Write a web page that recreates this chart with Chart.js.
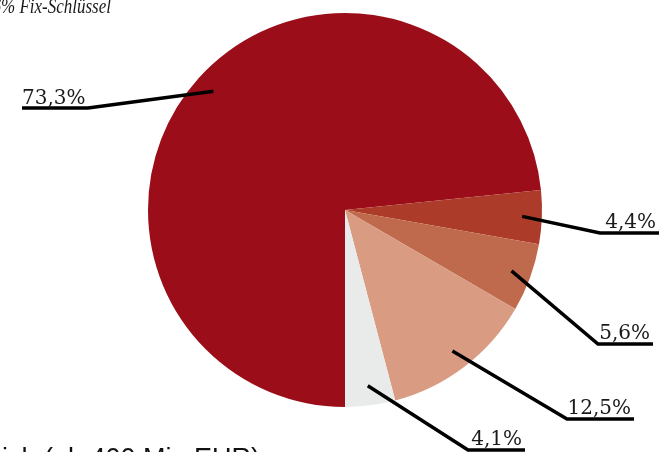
<!DOCTYPE html>
<html>
<head>
<meta charset="utf-8">
<script src="https://cdn.jsdelivr.net/npm/chart.js@4"></script>
<style>
  html, body { margin: 0; padding: 0; background: #fff; overflow: hidden; }
  #wrap { width: 659px; height: 452px; position: relative; }
</style>
</head>
<body>
<div id="wrap"><canvas id="pieChart"></canvas></div>
<script>
// Anteile (in %)
var labels = ['Rest', 'Anteil A', 'Anteil B', 'Anteil C', 'Anteil D'];
var values = [73.3, 4.4, 5.6, 12.5, 4.1];
var valueLabels = ['73,3%', '4,4%', '5,6%', '12,5%', '4,1%'];
var colors = ['#9b0e19', '#ad3b2a', '#c06a4d', '#d99b82', '#e9ebea'];

// Knickpunkt der Führungslinie, Ende der Unterstreichung
var leaders = [
    { elbow: [88, 108], end: 22 },
    { elbow: [600, 233], end: 659 },
    { elbow: [598, 344], end: 653 },
    { elbow: [567, 419], end: 634 },
    { elbow: [468, 450], end: 525 }
];

var leaderPlugin = {
    id: 'leaders',
    afterDraw: function (chart) {
        var ctx = chart.ctx;
        var arcs = chart.getDatasetMeta(0).data;
        ctx.save();
        arcs.forEach(function (arc, i) {
            var mid = (arc.startAngle + arc.endAngle) / 2;
            var r = arc.outerRadius * 0.9;
            var sx = arc.x + Math.cos(mid) * r;
            var sy = arc.y + Math.sin(mid) * r;
            var l = leaders[i];
            ctx.strokeStyle = '#000';
            ctx.lineWidth = 3.5;
            ctx.lineCap = 'butt';
            ctx.lineJoin = 'miter';
            ctx.beginPath();
            ctx.moveTo(sx, sy);
            ctx.lineTo(l.elbow[0], l.elbow[1]);
            ctx.lineTo(l.end, l.elbow[1]);
            ctx.stroke();

            ctx.fillStyle = '#1a1a1a';
            ctx.font = '20px "DejaVu Serif"';
            ctx.textBaseline = 'alphabetic';
            if (l.end < l.elbow[0]) {
                ctx.textAlign = 'left';
                ctx.fillText(valueLabels[i], l.end, l.elbow[1] - 4);
            } else {
                ctx.textAlign = 'right';
                ctx.fillText(valueLabels[i], l.end - 3, l.elbow[1] - 5);
            }
        });

        // abgeschnittene Texte am Rand
        ctx.save();
        ctx.translate(111, 13);
        ctx.scale(1, 1.2);
        ctx.fillStyle = '#1a1a1a';
        ctx.font = 'italic 17px "Liberation Serif"';
        ctx.textAlign = 'right';
        ctx.fillText('6% Fix-Schlüssel', 0, 0);
        ctx.restore();

        ctx.fillStyle = '#111';
        ctx.font = '27px "Liberation Sans"';
        ctx.textAlign = 'left';
        ctx.fillText('ich (ab 400 Mio EUR)', 2, 467);
        ctx.restore();
    }
};

var ctxPie = document.getElementById('pieChart').getContext('2d');
var pieChart = new Chart(ctxPie, {
    type: 'pie',
    data: {
        labels: labels,
        datasets: [{
            data: values,
            backgroundColor: colors,
            borderWidth: 0
        }]
    },
    options: {
        responsive: true,
        maintainAspectRatio: false,
        animation: false,
        rotation: 180,
        layout: {
            padding: { left: 31, right: 0, top: 13, bottom: 45 }
        },
        plugins: {
            legend: { display: false },
            tooltip: { enabled: false }
        }
    },
    plugins: [leaderPlugin]
});
</script>
</body>
</html>
